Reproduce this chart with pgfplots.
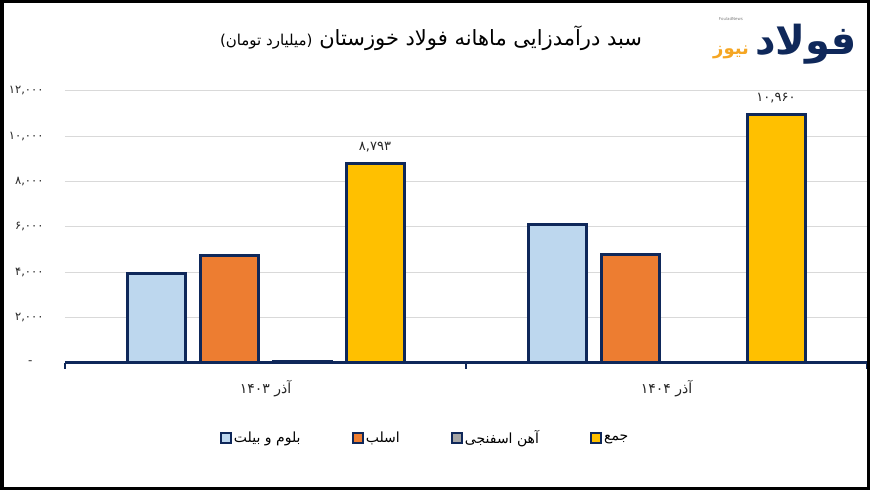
\documentclass[border=0pt]{standalone}
\usepackage{fontspec}
\usepackage{pgfplots}
\pgfplotsset{compat=1.18}
\setmainfont{DejaVu Sans}
\newfontfamily\fa[Script=Arabic]{DejaVu Sans}
\TeXXeTstate=1
\definecolor{navy}{RGB}{15,40,90}
\definecolor{lblue}{HTML}{BDD7EE}
\definecolor{orng}{HTML}{ED7D31}
\definecolor{gold}{HTML}{FFC000}
\definecolor{gry}{HTML}{A5A5A5}
\definecolor{gridc}{HTML}{D9D9D9}
\definecolor{logogold}{RGB}{245,166,35}
\begin{document}
\begin{tikzpicture}[x=1pt,y=1pt]
\useasboundingbox (0,0) rectangle (870,490);
\fill[white] (0,0) rectangle (870,490);
\begin{axis}[
  at={(65pt,127.3pt)}, anchor=south west,
  scale only axis, width=802pt, height=272pt,
  xmin=-0.5, xmax=1.5, ymin=0, ymax=12000,
  scaled y ticks=false,
  ybar=15pt, bar width=58pt,
  axis line style={draw=none},
  ytick={2000,4000,6000,8000,10000,12000},
  yticklabels={{۲,۰۰۰},{۴,۰۰۰},{۶,۰۰۰},{۸,۰۰۰},{۱۰,۰۰۰},{۱۲,۰۰۰}},
  extra y ticks={0},
  extra y tick labels={{\fontsize{12}{12}\selectfont -}},
  extra y tick style={grid style={draw=navy,line width=3pt}, yticklabel style={xshift=-11pt}},
  ymajorgrids, grid style={draw=gridc,line width=1pt},
  yticklabel style={font=\fa\fontsize{11.5}{11.5}\selectfont, anchor=east, xshift=-18pt, text=black!85},
  ytick style={draw=none},
  xtick={0,1},
  xticklabels={{\beginR آذر ۱۴۰۳\endR},{\beginR آذر ۱۴۰۴\endR}},
  xticklabel style={font=\fa\fontsize{14}{14}\selectfont, anchor=base, yshift=-27pt, text=black!85},
  xtick style={draw=none},
  extra x ticks={-0.5,0.5,1.5},
  extra x tick labels={},
  extra x tick style={tick align=outside, xtick pos=bottom, major tick length=6pt, xtick style={draw=navy,line width=2.5pt}, xmajorgrids=false},
  legend columns=4,
  legend style={at={(axis description cs:0.449,-0.277)}, anchor=center, draw=none, fill=none,
    font=\fa\fontsize{14}{14}\selectfont,
    /tikz/every even column/.append style={column sep=49pt}},
  legend image code/.code={\draw[#1,draw=navy,line width=2.2pt] (0pt,-5pt) rectangle (10pt,5pt);},
]
\addplot[fill=lblue, draw=navy, line width=3pt] coordinates {(0,3950) (1,6080)};
\addplot[fill=orng, draw=navy, line width=3pt] coordinates {(0,4720) (1,4780)};
\addplot[fill=gry, draw=navy, line width=3pt] coordinates {(0,40) (1,0)};
\addplot[fill=gold, draw=navy, line width=3pt,
  point meta=explicit symbolic, nodes near coords,
  nodes near coords style={font=\fa\fontsize{13}{13}\selectfont, anchor=base, yshift=13pt, text=black!85}]
  coordinates {(0,8793) [{۸,۷۹۳}] (1,10960) [{۱۰,۹۶۰}]};
\legend{{\beginR بلوم و بیلت\endR},{\beginR اسلب\endR},{\beginR آهن اسفنجی\endR},{\beginR جمع\endR}}
\end{axis}
\node[font=\fa\fontsize{21}{21}\selectfont] at (431,452) {\beginR سبد درآمدزایی ماهانه فولاد خوزستان {\fontsize{15}{15}\selectfont (میلیارد تومان)}\endR};
\node[font=\fa\bfseries\fontsize{40}{40}\selectfont, text=navy] at (806,446) {\beginR فولاد\endR};
\node[font=\fa\bfseries\fontsize{18}{18}\selectfont, text=logogold] at (731,438) {\beginR نیوز\endR};
\node[font=\fontsize{4}{4}\selectfont, text=gray] at (731,471) {FouladNews};
\draw[black,line width=3.5pt] (1.75,1.75) rectangle (868.25,488.25);
\end{tikzpicture}
\end{document}
